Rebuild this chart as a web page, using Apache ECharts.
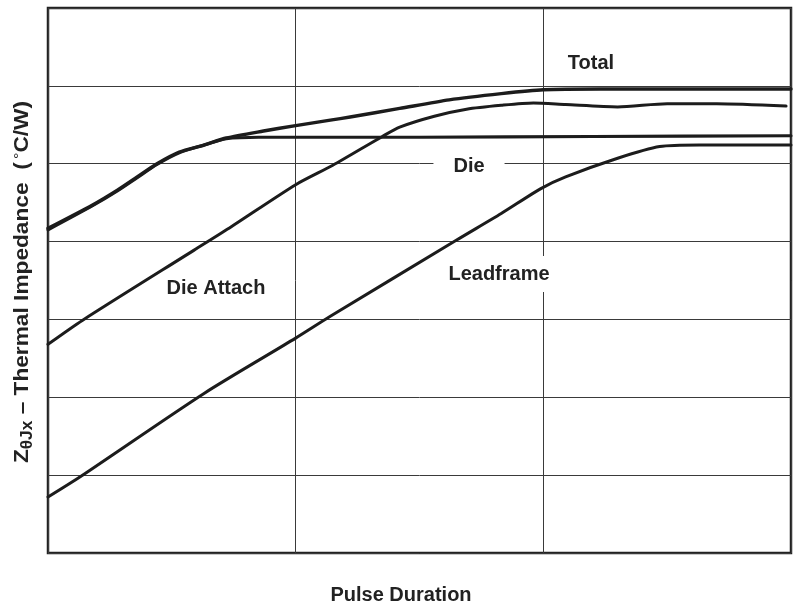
<!DOCTYPE html>
<html>
<head>
<meta charset="utf-8">
<script src="https://cdn.jsdelivr.net/npm/echarts@6/dist/echarts.min.js"></script>
<style>
html,body{margin:0;padding:0;background:#fff;}
#chart{width:793px;height:608px;}
</style>
</head>
<body>
<div id="chart"></div>
<script>
// Pulse duration in decades (x: 0..3), thermal impedance in grid units (y: 0..7)
var xTicks = [0, 1, 2, 3];
var yTicks = [0, 1, 2, 3, 4, 5, 6, 7];

var totalPts = [[0,4.17],[0.18,4.47],[0.28,4.66],[0.36,4.83],[0.44,5.0],[0.53,5.15],[0.63,5.24],[0.72,5.33],[0.87,5.42],[1.0,5.49],[1.14,5.56],[1.22,5.6],[1.42,5.71],[1.62,5.82],[1.83,5.9],[2.0,5.95],[2.23,5.96],[3.0,5.96]];
var diePts = [[0,4.15],[0.18,4.46],[0.28,4.65],[0.36,4.82],[0.44,4.99],[0.53,5.14],[0.63,5.24],[0.72,5.32],[0.85,5.34],[1.5,5.34],[2.2,5.35],[3.0,5.36]];
var dieAttachPts = [[0,2.68],[0.14,2.99],[0.59,3.89],[0.74,4.19],[1.0,4.73],[1.15,4.98],[1.35,5.35],[1.42,5.47],[1.56,5.61],[1.69,5.70],[1.83,5.75],[1.96,5.78],[2.09,5.76],[2.3,5.73],[2.5,5.77],[2.7,5.77],[2.98,5.74]];
var leadframePts = [[0,0.72],[0.13,0.98],[0.63,2.05],[1.0,2.76],[1.14,3.04],[1.65,4.02],[1.83,4.36],[1.99,4.68],[2.09,4.83],[2.3,5.07],[2.47,5.22],[2.63,5.24],[3.0,5.24]];

var seriesNames = ['Total', 'Die', 'Die Attach', 'Leadframe'];
var xTitle = 'Pulse Duration';

var FONT = '"Liberation Sans", Arial, Helvetica, sans-serif';
var LINE = '#1c1c1c';

function mkSeries(name, data, w) {
  return {
    name: name, type: 'line', data: data, showSymbol: false, symbol: 'none',
    smooth: 0.25,
    lineStyle: {color: LINE, width: w, cap: 'round', join: 'round'},
    z: 3, silent: true
  };
}

var chart = echarts.init(document.getElementById('chart'), null, {renderer: 'canvas'});
var option = {
  animation: false,
  backgroundColor: '#fff',
  grid: {left: 48, right: 2, top: 8, bottom: 55, show: true, borderColor: '#222', borderWidth: 2.5, backgroundColor: 'transparent'},
  xAxis: {
    type: 'value', min: xTicks[0], max: xTicks[xTicks.length-1], interval: 1,
    axisLine: {show: false}, axisTick: {show: false}, axisLabel: {show: false},
    splitLine: {show: true, lineStyle: {color: '#3a3a3a', width: 1}}
  },
  yAxis: {
    type: 'value', min: yTicks[0], max: yTicks[yTicks.length-1], interval: 1,
    axisLine: {show: false}, axisTick: {show: false}, axisLabel: {show: false},
    splitLine: {show: true, lineStyle: {color: '#3a3a3a', width: 1}}
  },
  series: [
    mkSeries(seriesNames[0], totalPts, 3.4),
    mkSeries(seriesNames[1], diePts, 3.1),
    mkSeries(seriesNames[2], dieAttachPts, 3),
    mkSeries(seriesNames[3], leadframePts, 3)
  ],
  graphic: [
    {type: 'text', x: 591, y: 63, z: 1, style: {text: seriesNames[0], font: 'bold 20px ' + FONT, fill: '#222', align: 'center', verticalAlign: 'middle'}},
    {type: 'text', x: 469, y: 166, z: 1, style: {text: seriesNames[1], font: 'bold 20px ' + FONT, fill: '#222', align: 'center', verticalAlign: 'middle', backgroundColor: '#fff', padding: [5, 20]}},
    {type: 'text', x: 216, y: 288, z: 1, style: {text: seriesNames[2], font: 'bold 20px ' + FONT, fill: '#222', align: 'center', verticalAlign: 'middle'}},
    {type: 'text', x: 499, y: 274, z: 1, style: {text: seriesNames[3], font: 'bold 20px ' + FONT, fill: '#222', align: 'center', verticalAlign: 'middle', backgroundColor: '#fff', padding: [8, 4]}},
    {type: 'text', x: 401, y: 595, z: 1, style: {text: xTitle, font: 'bold 20px ' + FONT, fill: '#222', align: 'center', verticalAlign: 'middle'}},
    {type: 'text', x: 24, y: 282, rotation: Math.PI / 2, scaleX: 1.08, z: 1,
      style: {
        text: '{m|Z}{s|θJx}{m| – Thermal Impedance  (}{sup|°}{m|C/W)}',
        align: 'center', verticalAlign: 'middle', fill: '#222',
        rich: {
          m: {fontFamily: FONT, fontWeight: 'bold', fontSize: 21, verticalAlign: 'top', fill: '#222', color: '#222'},
          s: {fontFamily: FONT, fontWeight: 'bold', fontSize: 16, verticalAlign: 'top', padding: [8, 0, 0, 0], fill: '#222', color: '#222'},
          sup: {fontFamily: FONT, fontWeight: 'normal', fontSize: 15, verticalAlign: 'top', padding: [0, 0, 0, 3], fill: '#222', color: '#222'}
        }
      }
    }
  ]
};
chart.setOption(option);
</script>
</body>
</html>
